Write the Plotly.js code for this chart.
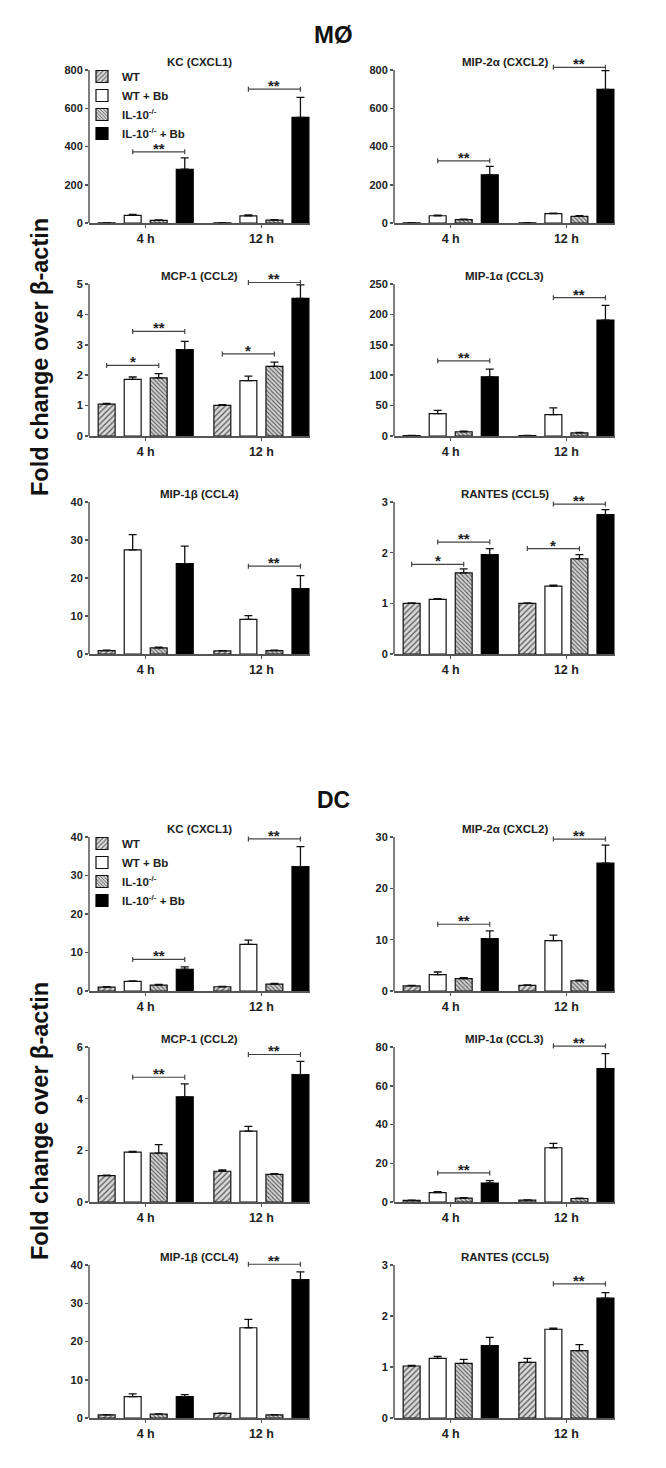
<!DOCTYPE html>
<html><head><meta charset="utf-8">
<script src="https://cdn.plot.ly/plotly-3.0.1.min.js"></script>
<style>html,body{margin:0;padding:0;background:#fff}#chart{width:666px;height:1468px}</style>
</head><body><div id="chart"></div>
<script>
// ---------------- DATA ----------------
const groups = ['4 h', '12 h'];
const seriesNames = ['WT', 'WT + Bb', 'IL-10<sup>-/-</sup>', 'IL-10<sup>-/-</sup> + Bb'];
const panelTitles = ['KC (CXCL1)', 'MIP-2α (CXCL2)', 'MCP-1 (CCL2)', 'MIP-1α (CCL3)', 'MIP-1β (CCL4)', 'RANTES (CCL5)'];
const sectionTitles = ['MØ', 'DC'];
const yAxisTitle = 'Fold change over β-actin';

// y-axis [top tick, step] per panel
const moTicks = [[800, 200], [800, 200], [5, 1], [250, 50], [40, 10], [3, 1]];
const dcTicks = [[40, 10], [30, 10], [6, 2], [80, 20], [40, 10], [3, 1]];

// rows: WT, WT + Bb, IL-10-/-, IL-10-/- + Bb ; columns: 4 h, 12 h
const moKcMean   = [[1, 1], [40, 37], [14, 15], [281, 552]];
const moKcErr    = [[0.5, 0.5], [5, 5], [2, 2], [60, 105]];
const moMip2Mean = [[1, 1], [38, 49], [18, 35], [252, 699]];
const moMip2Err  = [[0.5, 0.5], [3, 3], [2, 3], [44, 98]];
const moMcpMean  = [[1.05, 1.01], [1.86, 1.82], [1.91, 2.29], [2.84, 4.53]];
const moMcpErr   = [[0.02, 0.02], [0.08, 0.15], [0.14, 0.14], [0.27, 0.44]];
const moMip1aMean = [[0.8, 0.8], [36.8, 35.2], [7, 5], [97.3, 190.7]];
const moMip1aErr  = [[0.2, 0.2], [5.5, 11], [1, 0.8], [12.6, 24]];
const moMip1bMean = [[0.9, 0.8], [27.4, 9.1], [1.6, 0.9], [23.8, 17.2]];
const moMip1bErr  = [[0.1, 0.1], [4, 1], [0.2, 0.1], [4.6, 3.4]];
const moRantesMean = [[1.0, 1.0], [1.08, 1.34], [1.60, 1.88], [1.96, 2.75]];
const moRantesErr  = [[0.01, 0.01], [0.01, 0.02], [0.08, 0.08], [0.12, 0.10]];

const dcKcMean   = [[1.0, 1.1], [2.5, 12.1], [1.5, 1.8], [5.65, 32.3]];
const dcKcErr    = [[0.1, 0.1], [0.1, 1.1], [0.2, 0.2], [0.6, 5.2]];
const dcMip2Mean = [[1.0, 1.1], [3.2, 9.8], [2.4, 2.0], [10.2, 24.9]];
const dcMip2Err  = [[0.1, 0.1], [0.5, 1.1], [0.2, 0.1], [1.5, 3.5]];
const dcMcpMean  = [[1.02, 1.19], [1.93, 2.74], [1.89, 1.07], [4.07, 4.93]];
const dcMcpErr   = [[0.02, 0.05], [0.03, 0.19], [0.33, 0.03], [0.5, 0.51]];
const dcMip1aMean = [[0.8, 1.0], [4.8, 28.0], [2.0, 1.8], [9.8, 68.8]];
const dcMip1aErr  = [[0.1, 0.1], [0.5, 2.3], [0.3, 0.2], [1.2, 7.8]];
const dcMip1bMean = [[0.8, 1.2], [5.6, 23.6], [1.0, 0.8], [5.6, 36.2]];
const dcMip1bErr  = [[0.1, 0.1], [0.7, 2.2], [0.1, 0.1], [0.5, 2.0]];
const dcRantesMean = [[1.02, 1.09], [1.17, 1.74], [1.07, 1.32], [1.42, 2.35]];
const dcRantesErr  = [[0.01, 0.08], [0.04, 0.02], [0.08, 0.12], [0.16, 0.11]];

// significance: [group, from series, to series, y value, label]
const moKcSig    = [[0, 1, 3, 372, '**'], [1, 1, 3, 700, '**']];
const moMip2Sig  = [[0, 1, 3, 325, '**'], [1, 1, 3, 814, '**']];
const moMcpSig   = [[0, 0, 2, 2.32, '*'], [0, 1, 3, 3.44, '**'], [1, 0, 2, 2.70, '*'], [1, 1, 3, 5.05, '**']];
const moMip1aSig = [[0, 1, 3, 123.6, '**'], [1, 1, 3, 227.5, '**']];
const moMip1bSig = [[1, 1, 3, 23.1, '**']];
const moRantesSig = [[0, 0, 2, 1.77, '*'], [0, 1, 3, 2.21, '**'], [1, 0, 2, 2.08, '*'], [1, 1, 3, 2.96, '**']];
const dcKcSig    = [[0, 1, 3, 8.2, '**'], [1, 1, 3, 39.5, '**']];
const dcMip2Sig  = [[0, 1, 3, 13.0, '**'], [1, 1, 3, 29.6, '**']];
const dcMcpSig   = [[0, 1, 3, 4.83, '**'], [1, 1, 3, 5.71, '**']];
const dcMip1aSig = [[0, 1, 3, 15.0, '**'], [1, 1, 3, 80.5, '**']];
const dcMip1bSig = [[1, 1, 3, 40.2, '**']];
const dcRantesSig = [[1, 1, 3, 2.63, '**']];

const means = [moKcMean, moMip2Mean, moMcpMean, moMip1aMean, moMip1bMean, moRantesMean,
               dcKcMean, dcMip2Mean, dcMcpMean, dcMip1aMean, dcMip1bMean, dcRantesMean];
const errs = [moKcErr, moMip2Err, moMcpErr, moMip1aErr, moMip1bErr, moRantesErr,
              dcKcErr, dcMip2Err, dcMcpErr, dcMip1aErr, dcMip1bErr, dcRantesErr];
const sigs = [moKcSig, moMip2Sig, moMcpSig, moMip1aSig, moMip1bSig, moRantesSig,
              dcKcSig, dcMip2Sig, dcMcpSig, dcMip1aSig, dcMip1bSig, dcRantesSig];
const ticks = moTicks.concat(dcTicks);

// ---------------- STYLE / LAYOUT ----------------
const W = 666, H = 1468;
const FONT = 'Arial, "Liberation Sans", sans-serif';
const rowPx = [[223, 70], [436, 284], [654, 502], [991, 837], [1202, 1047], [1418, 1265]];
const colPx = [[89, 310], [394, 615]];
const K = 1.05;
const BARGAP = 0.1;
const slot = (1 - BARGAP) / 4;
const axisGrey = '#555';

const markerStyles = [
  {color: '#d8d8d8', line: {color: '#111', width: 1.2}, pattern: {shape: '/', bgcolor: '#dadada', fgcolor: '#555', size: 4, solidity: 0.3}},
  {color: '#ffffff', line: {color: '#111', width: 1.2}},
  {color: '#d0d0d0', line: {color: '#111', width: 1.2}, pattern: {shape: '\\', bgcolor: '#d4d4d4', fgcolor: '#555', size: 3, solidity: 0.35}},
  {color: '#000000', line: {color: '#000', width: 1.2}}
];
const legendFont = {size: 11.5, weight: 'bold', color: '#222', family: FONT};

const data = [];
const layout = {
  width: W, height: H, margin: {l: 0, r: 0, t: 0, b: 0},
  paper_bgcolor: '#fff', plot_bgcolor: 'rgba(0,0,0,0)',
  barmode: 'group', bargap: BARGAP, bargroupgap: 0.35,
  font: {family: FONT, color: '#222'},
  showlegend: true,
  hovermode: false,
  legend: {x: 82 / W, y: 1 - 62 / H, xanchor: 'left', yanchor: 'top', bgcolor: 'rgba(0,0,0,0)',
           font: legendFont, tracegroupgap: 0, itemwidth: 30},
  legend2: {x: 82 / W, y: 1 - 829 / H, xanchor: 'left', yanchor: 'top', bgcolor: 'rgba(0,0,0,0)',
           font: legendFont, tracegroupgap: 0, itemwidth: 30},
  shapes: [], annotations: []
};

for (let p = 0; p < 12; p++) {
  const s = Math.floor(p / 6), i = p % 6;
  const row = s * 3 + Math.floor(i / 2), col = i % 2;
  const xid = 'x' + (p ? p + 1 : ''), yid = 'y' + (p ? p + 1 : '');
  const xk = 'xaxis' + (p ? p + 1 : ''), yk = 'yaxis' + (p ? p + 1 : '');
  const [top, step] = ticks[p];
  const [bot, topPx] = rowPx[row];
  const domTopPx = bot - (bot - topPx) * K;
  const tv = [];
  for (let v = 0; v <= top + 1e-9; v += step) tv.push(v);

  for (let k = 0; k < 4; k++) {
    data.push({
      type: 'bar', x: [0, 1], y: means[p][k], name: seriesNames[k],
      xaxis: xid, yaxis: yid, offsetgroup: String(k),
      marker: markerStyles[k],
      error_y: {type: 'data', symmetric: false, array: errs[p][k], arrayminus: [0, 0],
                color: '#111', thickness: 1.3, width: 4},
      showlegend: i === 0, legend: s === 0 ? 'legend' : 'legend2',
      hoverinfo: 'skip'
    });
  }

  layout[xk] = {
    domain: [colPx[col][0] / W, colPx[col][1] / W], anchor: yid,
    range: [-0.49, 1.42], tickvals: [0, 1], ticktext: groups,
    showline: true, linecolor: axisGrey, linewidth: 1.5,
    ticks: 'outside', ticklen: 3, tickcolor: axisGrey, tickwidth: 1.5,
    tickfont: {size: 12.5, weight: 'bold', color: '#222', family: FONT},
    showgrid: false, zeroline: false, fixedrange: true
  };
  layout[yk] = {
    domain: [1 - bot / H, 1 - domTopPx / H], anchor: xid,
    range: [0, top * K], tickvals: tv,
    showline: false,
    ticks: 'outside', ticklen: 3, tickcolor: axisGrey, tickwidth: 1.5,
    tickfont: {size: 11, weight: 'bold', color: '#222', family: FONT},
    showgrid: false, zeroline: false, fixedrange: true
  };
  // y-axis line up to top tick
  layout.shapes.push({type: 'line', xref: xid + ' domain', yref: yid, x0: 0, x1: 0, y0: 0, y1: top,
                      line: {color: axisGrey, width: 1.5}});
  // panel title
  layout.annotations.push({xref: xid + ' domain', yref: yid, x: 0.5, y: top, xanchor: 'center', yanchor: 'bottom', yshift: 0,
                           text: panelTitles[i], showarrow: false,
                           font: {size: 11.5, weight: 'bold', color: '#222', family: FONT}});
  // significance brackets
  sigs[p].forEach(([g, a, b, yv, lab]) => {
    const xa = g + (a - 1.5) * slot, xb = g + (b - 1.5) * slot;
    layout.shapes.push({type: 'line', xref: xid, yref: yid, x0: xa, x1: xb, y0: yv, y1: yv,
                        line: {color: '#444', width: 1.2}});
    [xa, xb].forEach(xx => layout.shapes.push({type: 'line', xref: xid, yref: yid, ysizemode: 'pixel',
                        yanchor: yv, x0: xx, x1: xx, y0: -2.5, y1: 2.5, line: {color: '#444', width: 1.2}}));
    layout.annotations.push({xref: xid, yref: yid, x: (xa + xb) / 2, y: yv, xanchor: 'center', yanchor: 'bottom', yshift: -7,
                             text: lab, showarrow: false,
                             font: {size: 15, weight: 'bold', color: '#222', family: FONT}});
  });
}

// section titles & y-axis titles
[[35, 0, 24], [800, 1, 23]].forEach(([py, s, fs]) => layout.annotations.push({
  xref: 'paper', yref: 'paper', x: 333 / W, y: 1 - py / H, xanchor: 'center', yanchor: 'middle',
  text: sectionTitles[s], showarrow: false,
  font: {size: fs, weight: 'bold', color: '#111', family: FONT}}));
[357, 1121].forEach(py => layout.annotations.push({
  xref: 'paper', yref: 'paper', x: 40 / W, y: 1 - py / H, xanchor: 'center', yanchor: 'middle',
  text: yAxisTitle, textangle: -90, showarrow: false,
  font: {size: 23.5, weight: 'bold', color: '#111', family: FONT}}));

Plotly.newPlot('chart', data, layout, {staticPlot: true, displayModeBar: false});
</script>
</body></html>
